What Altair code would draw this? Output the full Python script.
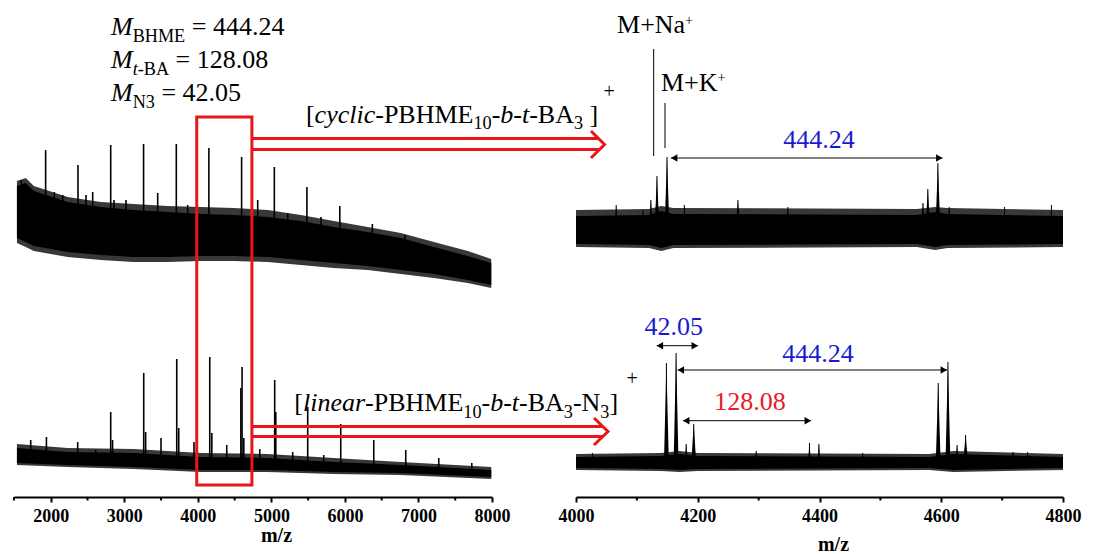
import altair as alt
import numpy as np
import pandas as pd

FONT = "Liberation Serif"
RED = "#e8161b"
BLUE = "#1a1acd"
NUM_RED = "#e3202a"
FRINGE = "#383838"

# ------------------------------------------------------------------
# Values (m/z, intensity in arbitrary units)
# Left overview, upper trace (cyclic): dense noise core and outer noise envelope
cyc_band_mz = [1540, 1660, 1770, 2230, 2680, 3130, 3590, 4040, 4490, 4950, 5400, 5850, 6310, 6760, 7210, 7670, 7990]
cyc_band_hi = [311, 314, 306, 295, 290, 287, 285, 283, 282, 280, 276, 270, 265, 259, 250, 241, 234]
cyc_band_lo = [259, 255, 251, 245, 242, 240, 240, 241, 241, 240, 237, 234, 231, 227, 223, 217, 212]
cyc_env_hi = [316, 319, 311, 300, 295, 293, 291, 290, 289, 287, 282, 276, 270, 264, 255, 246, 238]
cyc_env_lo = [254, 250, 246, 240, 237, 235, 235, 236, 236, 235, 232, 229, 227, 223, 219, 214, 209]
cyc_peak_mz = [1600, 1930, 2048, 2162, 2370, 2479, 2570, 2815, 2860, 3023, 3262, 3454, 3707, 3862,
               4150, 4595, 4814, 5040, 5222, 5483, 5675, 5930, 6373, 6818]
cyc_peak_top = [317, 347, 305, 302, 332, 302, 305, 352, 297, 297, 353, 304, 353, 292,
                349, 340, 297, 330, 284, 310, 280, 291, 273, 262]

# Left overview, lower trace (linear)
lin_band_mz = [1540, 2230, 3130, 4040, 4950, 5850, 6760, 7990]
lin_band_hi = [49, 45, 44, 40, 39, 35, 32, 27]
lin_band_lo = [34, 32, 30, 27, 27, 25, 24, 20]
lin_env_hi = [53, 49, 48, 44, 43, 39, 35, 30]
lin_env_lo = [32, 30, 28, 25, 25, 23, 22, 18]
lin_peak_mz = [1727, 1941, 2366, 2611, 2815, 2840, 3264, 3290, 3499, 3713, 3740, 3948, 4162, 4190, 4393,
               4585, 4601, 4625, 4842, 5045, 5060, 5290, 5494, 5712, 5943, 6392, 6827, 7276, 7725]
lin_peak_top = [57, 60, 55, 47, 85, 57, 124, 65, 59, 138, 69, 55, 140, 64, 52,
                109, 130, 59, 48, 117, 85, 45, 90, 42, 73, 57, 47, 39, 34]

# Right zoom 4000-4800, upper trace (cyclic)
zc_band_mz = [4000, 4120, 4140, 4160, 4560, 4590, 4610, 4800]
zc_band_hi = [281, 282, 286, 283, 282, 285, 283, 281]
zc_band_lo = [253, 252, 249, 252, 253, 250, 252, 253]
zc_env_hi = [287, 288, 291, 289, 288, 290, 289, 287]
zc_env_lo = [250, 249, 246, 249, 250, 247, 249, 250]
zc_peak_mz = [4066, 4110, 4123, 4133, 4149.5, 4178, 4266, 4348, 4570, 4578, 4594.5, 4613, 4704, 4781]
zc_peak_top = [292, 287, 297, 321, 340, 292, 297, 290, 294, 308, 334, 290, 290, 292]

# Right zoom 4000-4800, lower trace (linear)
zl_band_mz = [4000, 4140, 4170, 4200, 4580, 4620, 4800]
zl_band_hi = [40, 41, 43, 41, 40, 43, 40]
zl_band_lo = [29, 28, 27, 28, 29, 27, 29]
zl_env_hi = [43, 44, 46, 44, 43, 46, 43]
zl_env_lo = [27, 26, 25, 26, 27, 25, 27]
zl_peak_mz = [4027, 4148.5, 4164.4, 4181, 4193.4, 4296, 4383.5, 4399, 4471, 4595, 4611, 4626, 4640, 4718, 4742]
zl_peak_top = [44, 134, 144, 53, 73, 46, 54, 53, 44, 114, 135, 52, 62, 45, 45]

left_ticks = [2000, 3000, 4000, 5000, 6000, 7000, 8000]
left_minor = [1500, 2500, 3500, 4500, 5500, 6500, 7500]
right_ticks = [4000, 4200, 4400, 4600, 4800]
right_minor = [4100, 4300, 4500, 4700]

mass_bhme, mass_tba, mass_n3 = "444.24", "128.08", "42.05"

# ------------------------------------------------------------------
LW, RW, H = 478, 487, 489
UPX_L = 6500 / LW      # m/z per pixel, left panel
UPX_R = 800 / RW       # m/z per pixel, right panel

XL = alt.Scale(domain=[1500, 8000], nice=False, zero=False)
XR = alt.Scale(domain=[4000, 4800], nice=False, zero=False)
YS = alt.Scale(domain=[0, H], nice=False, zero=False)


def make_axis(values, tx, ty):
    return alt.Axis(values=values, format="d", title="m/z", grid=False,
                    labelFont=FONT, labelFontSize=18, labelFontWeight="bold", labelColor="black",
                    labelPadding=5, labelFlush=False, labelOverlap=False,
                    tickSize=5, tickWidth=2, tickColor="black",
                    domainColor="black", domainWidth=2,
                    titleFont=FONT, titleFontSize=20, titleFontWeight="bold", titleColor="black",
                    titleX=tx, titleY=ty, titleBaseline="alphabetic")


AX_L = make_axis(left_ticks, 262, 44)
AX_R = make_axis(right_ticks, 257, 53)


def XLf(f):
    return alt.X(f"{f}:Q", scale=XL, axis=AX_L)


def XRf(f):
    return alt.X(f"{f}:Q", scale=XR, axis=AX_R)


def Yf(f):
    return alt.Y(f"{f}:Q", scale=YS, axis=None)


def band_df(mz, hi, lo, g):
    return pd.DataFrame({"mz": mz, "hi": hi, "lo": lo, "g": g})


def peak_df(mz, top, bmz, bhi, blo):
    mid = (np.array(bhi, float) + np.array(blo, float)) / 2
    base = np.interp(mz, bmz, mid)
    return pd.DataFrame({"mz": mz, "top": top, "base": base})


W_N = {' ': 250, '+': 564, '-': 333, '.': 250, '=': 564, '[': 333, ']': 333, 'A': 722, 'B': 667,
       'E': 611, 'H': 722, 'K': 722, 'M': 889, 'N': 722, 'P': 556, 'a': 444, 'b': 500, 'c': 444,
       'e': 444, 'i': 278, 'l': 278, 'n': 500, 'r': 333, 't': 278, 'y': 500}
for d in "0123456789":
    W_N[d] = 500
W_I = {'M': 833, 'a': 500, 'b': 500, 'c': 444, 'e': 444, 'i': 278, 'l': 278, 'n': 500,
       'r': 389, 't': 278, 'y': 444}


def text_run(pieces, x0, y0, size, upx, color="black"):
    rows, cx = [], 0.0
    for txt, kind in pieces:
        italic = kind.startswith("i")
        sub = kind.endswith("sub")
        sup = kind.endswith("sup")
        s = size * (0.7 if sub else 0.55 if sup else 1.0)
        dy = -0.25 * size if sub else (0.33 * size if sup else 0.0)
        table = W_I if italic else W_N
        body = txt.lstrip(" ")
        cx += (len(txt) - len(body)) * 0.25 * s
        rows.append({"x": x0 + cx * upx, "y": y0 + dy, "t": body, "s": s,
                     "st": "italic" if italic else "normal", "c": color})
        cx += sum(table.get(ch, W_N.get(ch, 500)) for ch in body) / 1000 * s
    return rows


def text_layer(df, style, xf):
    return alt.Chart(df[df["st"] == style]).mark_text(
        font=FONT, align="left", baseline="alphabetic", fontStyle=style
    ).encode(x=xf("x"), y=Yf("y"), text="t:N",
             size=alt.Size("s:Q", scale=None), color=alt.Color("c:N", scale=None))


# ------------------------------ left panel ------------------------------
envL = pd.concat([band_df(cyc_band_mz, cyc_env_hi, cyc_env_lo, "c"),
                  band_df(lin_band_mz, lin_env_hi, lin_env_lo, "l")])
bandL = pd.concat([band_df(cyc_band_mz, cyc_band_hi, cyc_band_lo, "c"),
                   band_df(lin_band_mz, lin_band_hi, lin_band_lo, "l")])
peaksL = pd.concat([peak_df(cyc_peak_mz, cyc_peak_top, cyc_band_mz, cyc_band_hi, cyc_band_lo),
                    peak_df(lin_peak_mz, lin_peak_top, lin_band_mz, lin_band_hi, lin_band_lo)])
minorL = pd.DataFrame({"mz": left_minor, "y0": 0, "y1": -3.5})

box = pd.DataFrame({"x1": [3985], "x2": [4735], "y1": [12], "y2": [380]})
red_lines = pd.DataFrame({"x1": [4735, 4735, 4735, 4735], "x2": [9448, 9448, 9506, 9506],
                          "y": [358.5, 347.5, 70.5, 60.5]})
chev = pd.DataFrame({"g": ["a", "a", "a", "b", "b", "b"], "o": [0, 1, 2, 0, 1, 2],
                     "x": [9346, 9530, 9346, 9387, 9577, 9387],
                     "y": [366, 352.5, 339, 79, 65.5, 52]})

rowsL = []
rowsL += text_run([("M", "i"), ("BHME", "sub"), (" = " + mass_bhme, "n")], 2819, 462, 26, UPX_L)
rowsL += text_run([("M", "i"), ("t", "isub"), ("-BA", "sub"), (" = " + mass_tba, "n")], 2819, 429, 26, UPX_L)
rowsL += text_run([("M", "i"), ("N3", "sub"), (" = " + mass_n3, "n")], 2819, 396, 26, UPX_L)
rowsL += text_run([("[", "n"), ("cyclic", "i"), ("-PBHME", "n"), ("10", "sub"), ("-", "n"), ("b", "i"),
                   ("-", "n"), ("t", "i"), ("-BA", "n"), ("3", "sub"), (" ]", "n")], 5470, 374.5, 26, UPX_L)
rowsL += text_run([("[", "n"), ("linear", "i"), ("-PBHME", "n"), ("10", "sub"), ("-", "n"), ("b", "i"),
                   ("-", "n"), ("t", "i"), ("-BA", "n"), ("3", "sub"), ("-N", "n"), ("3", "sub"),
                   ("]", "n")], 5312, 86, 26, UPX_L)
rowsL += text_run([("+", "n")], 9516, 399, 20, UPX_L)
rowsL += text_run([("+", "n")], 9829, 112, 20, UPX_L)
txtL = pd.DataFrame(rowsL)

left = alt.layer(
    alt.Chart(envL).mark_area(color=FRINGE, interpolate="linear").encode(
        x=XLf("mz"), y=Yf("hi"), y2="lo:Q", detail="g:N"),
    alt.Chart(bandL).mark_area(color="black", interpolate="linear").encode(
        x=XLf("mz"), y=Yf("hi"), y2="lo:Q", detail="g:N"),
    alt.Chart(peaksL).mark_rule(color="black", strokeWidth=1.6).encode(
        x=XLf("mz"), y=Yf("top"), y2="base:Q"),
    alt.Chart(minorL).mark_rule(color="black", strokeWidth=2).encode(
        x=XLf("mz"), y=Yf("y0"), y2="y1:Q"),
    alt.Chart(box).mark_rect(fillOpacity=0, stroke=RED, strokeWidth=3).encode(
        x=XLf("x1"), x2="x2:Q", y=Yf("y1"), y2="y2:Q"),
    alt.Chart(red_lines).mark_rule(color=RED, strokeWidth=3).encode(
        x=XLf("x1"), x2="x2:Q", y=Yf("y")),
    alt.Chart(chev).mark_line(color=RED, strokeWidth=3, strokeJoin="miter").encode(
        x=XLf("x"), y=Yf("y"), detail="g:N", order="o:Q"),
    text_layer(txtL, "normal", XLf),
    text_layer(txtL, "italic", XLf),
).properties(width=LW, height=H)

# ------------------------------ right panel ------------------------------
envR = pd.concat([band_df(zc_band_mz, zc_env_hi, zc_env_lo, "c"),
                  band_df(zl_band_mz, zl_env_hi, zl_env_lo, "l")])
bandR = pd.concat([band_df(zc_band_mz, zc_band_hi, zc_band_lo, "c"),
                   band_df(zl_band_mz, zl_band_hi, zl_band_lo, "l")])
peaksR = pd.concat([peak_df(zc_peak_mz, zc_peak_top, zc_band_mz, zc_band_hi, zc_band_lo),
                    peak_df(zl_peak_mz, zl_peak_top, zl_band_mz, zl_band_hi, zl_band_lo)]).reset_index(drop=True)
tri_rows = []
for i, r in peaksR.iterrows():
    hw = 4.0 if r["top"] - r["base"] > 25 else 2.5
    for dx, yy in [(-hw, r["base"]), (0, r["top"]), (hw, r["base"])]:
        tri_rows.append({"pid": i, "x": r["mz"] + dx, "y": yy, "base": r["base"]})
triR = pd.DataFrame(tri_rows)
minorR = pd.DataFrame({"mz": right_minor, "y0": 0, "y1": -3.5})

mlines = pd.DataFrame({"x": [4127.6, 4146.2], "y1": [448, 394], "y2": [341, 349]})
arrows = pd.DataFrame({"x1": [4156, 4132.6, 4167, 4175.8], "x2": [4602, 4200.4, 4609.5, 4386],
                       "y": [339, 151.3, 127, 76.3]})
HEAD = 55
hoff = (np.sqrt(3) / 2) * (np.sqrt(HEAD) / 2) * UPX_R
heads = pd.DataFrame({
    "x": list(arrows["x1"] + hoff) + list(arrows["x2"] - hoff),
    "y": list(arrows["y"]) * 2,
    "sh": ["triangle-left"] * 4 + ["triangle-right"] * 4})

rowsR = []
rowsR += text_run([("M+Na", "n"), ("+", "sup")], 4067.4, 463.7, 26, UPX_R)
rowsR += text_run([("M+K", "n"), ("+", "sup")], 4139.6, 406.5, 26, UPX_R)
txtR = pd.DataFrame(rowsR)

nums = pd.DataFrame({"x": [4399, 4160.5, 4397.5, 4286], "y": [349, 162, 135.3, 87],
                     "t": [mass_bhme, mass_n3, mass_bhme, mass_tba],
                     "c": [BLUE, BLUE, BLUE, NUM_RED]})

right = alt.layer(
    alt.Chart(envR).mark_area(color=FRINGE, interpolate="linear").encode(
        x=XRf("mz"), y=Yf("hi"), y2="lo:Q", detail="g:N"),
    alt.Chart(bandR).mark_area(color="black", interpolate="linear").encode(
        x=XRf("mz"), y=Yf("hi"), y2="lo:Q", detail="g:N"),
    alt.Chart(triR).mark_area(color="black", interpolate="linear").encode(
        x=XRf("x"), y=Yf("y"), y2="base:Q", detail="pid:N"),
    alt.Chart(peaksR).mark_rule(color="black", strokeWidth=1).encode(
        x=XRf("mz"), y=Yf("top"), y2="base:Q"),
    alt.Chart(minorR).mark_rule(color="black", strokeWidth=2).encode(
        x=XRf("mz"), y=Yf("y0"), y2="y1:Q"),
    alt.Chart(mlines).mark_rule(color="black", strokeWidth=1).encode(
        x=XRf("x"), y=Yf("y1"), y2="y2:Q"),
    alt.Chart(arrows).mark_rule(color="black", strokeWidth=1).encode(
        x=XRf("x1"), x2="x2:Q", y=Yf("y")),
    alt.Chart(heads).mark_point(filled=True, size=HEAD, color="black", opacity=1).encode(
        x=XRf("x"), y=Yf("y"), shape=alt.Shape("sh:N", scale=None)),
    text_layer(txtR, "normal", XRf),
    alt.Chart(nums).mark_text(font=FONT, fontSize=26, align="center", baseline="alphabetic").encode(
        x=XRf("x"), y=Yf("y"), text="t:N", color=alt.Color("c:N", scale=None)),
).properties(width=RW, height=H)

chart = alt.hconcat(left, right, spacing=84).properties(
    bounds="flush",
    padding={"left": 5, "top": 0, "right": 5, "bottom": 5},
    background="white",
).configure_view(strokeWidth=0)

chart.save("out.html", embed_options={"renderer": "svg", "actions": False})
